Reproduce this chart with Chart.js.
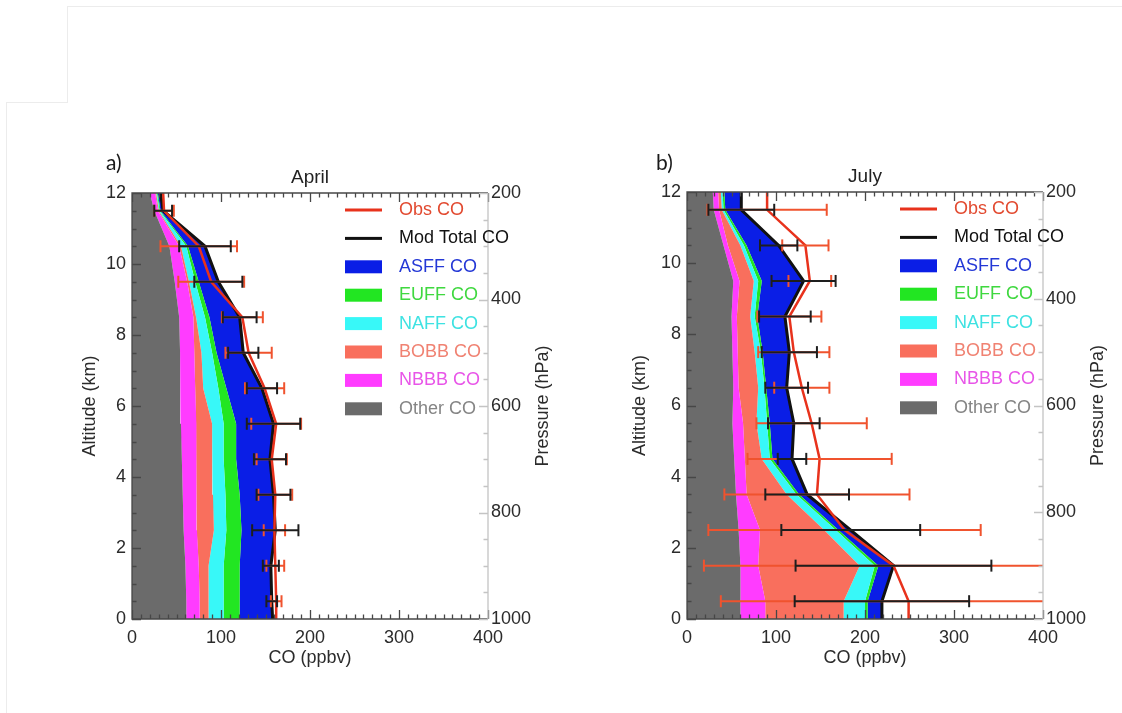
<!DOCTYPE html>
<html>
<head>
<meta charset="utf-8">
<title>Tagged CO profiles</title>
<script src="https://cdn.jsdelivr.net/npm/chart.js@4.4.1/dist/chart.umd.min.js"></script>
<style>
  body { margin: 0; background: #fff; }
  #page { position: relative; width: 1122px; height: 713px; overflow: hidden; background: #fff; }
  .panel { position: absolute; top: 0; width: 561px; height: 713px; }
  .edge { position: absolute; border: 0 solid #ececec; }
</style>
</head>
<body>
<div id="page">
  <div class="edge" style="left:67px;top:6px;width:1055px;height:96px;border-left-width:1px;border-top-width:1px;"></div>
  <div class="edge" style="left:6px;top:102px;width:61px;height:611px;border-left-width:1px;border-top-width:1px;"></div>
  <div class="panel" style="left:0"><canvas id="april" width="561" height="713"></canvas></div>
  <div class="panel" style="left:561px"><canvas id="july" width="561" height="713"></canvas></div>
</div>
<script>
// profile levels (km); the 0 and 12 km rows close the profile at the plot edges
const altitude = [0, 0.5, 1.5, 2.5, 3.5, 4.5, 5.5, 6.5, 7.5, 8.5, 9.5, 10.5, 11.5, 12];
const coTicks = [0, 100, 200, 300, 400];
const altTicks = [0, 2, 4, 6, 8, 10, 12];
const pressureTicks = [200, 400, 600, 800, 1000];

// stacking order, left to right
const sourceNames = ['Other CO', 'NBBB CO', 'BOBB CO', 'NAFF CO', 'EUFF CO', 'ASFF CO'];

// April, ppbv
const aprOther = [61, 61, 60, 58, 57, 56, 55, 54, 54, 53, 48, 42, 25, 20];
const aprNBBB  = [15, 15, 15, 15, 16, 16, 17, 17, 16, 16, 14, 11, 4, 6];
const aprBOBB  = [10, 10, 11, 19, 18, 18, 18, 9, 8, 3, 2, 2, 1, 1];
const aprNAFF  = [17, 17, 17, 14, 14, 13, 13, 17, 12, 10, 7, 6, 1, 1];
const aprEUFF  = [18, 18, 18, 17, 16, 14, 14, 9, 5, 5, 4, 2, 1, 1];
const aprASFF  = [37, 36, 35, 38, 38, 38, 42, 40, 30, 34, 22, 19, 3, 3];
const aprObs   = [162, 162, 161, 160, 161, 157, 162, 149, 131, 124, 89, 75, 36, 35];
const aprModSd = [null, 6, 9, 26, 19, 18, 30, 17, 17, 19, 27, 29, 10, null];
const aprObsSd = [null, 6, 10, 12, 19, 17, 28, 22, 26, 23, 37, 43, 11, null];

// July, ppbv
const julOther = [60, 60, 60, 58, 55, 53, 51, 52, 51, 50, 52, 41, 30, 29];
const julNBBB  = [28, 28, 20, 24, 12, 12, 12, 6, 6, 6, 7, 5, 6, 6];
const julBOBB  = [88, 88, 114, 72, 45, 19, 15, 22, 19, 15, 16, 14, 3, 3];
const julNAFF  = [24, 24, 17, 13, 11, 9, 12, 7, 7, 5, 5, 4, 2, 2];
const julEUFF  = [3, 3, 4, 3, 3, 3, 3, 2, 2, 3, 4, 3, 2, 2];
const julASFF  = [16, 16, 17, 14, 9, 22, 27, 23, 30, 31, 47, 36, 18, 19];
const julObs   = [249, 249, 232, 177, 146, 149, 140, 129, 120, 115, 138, 133, 90, 90];
const julModSd = [null, 98, 110, 78, 47, 16, 29, 24, 31, 29, 36, 21, 37, null];
const julObsSd = [null, 211, 213, 153, 104, 81, 62, 31, 40, 36, 24, 26, 67, null];

const sourceColors = ['#6b6b6b', '#ff3cff', '#f96f5d', '#38f8f8', '#22e622', '#0a1ee6'];
const obsColor = '#e8321c';
const obsBarColor = '#f0532e';
const modColor = '#111111';

const FONT = '"Liberation Sans", Arial, Helvetica, sans-serif';
Chart.defaults.font.family = FONT;
Chart.defaults.font.size = 18;
Chart.defaults.color = '#2b2b2b';
Chart.defaults.elements.line.tension = 0;

const keyEntries = [
  { label: 'Obs CO', swatch: obsColor, text: '#e24a30', line: true },
  { label: 'Mod Total CO', swatch: modColor, text: '#111', line: true },
  { label: 'ASFF CO', swatch: sourceColors[5], text: '#2438d6' },
  { label: 'EUFF CO', swatch: sourceColors[4], text: '#3fd83f' },
  { label: 'NAFF CO', swatch: sourceColors[3], text: '#3ee2e2' },
  { label: 'BOBB CO', swatch: sourceColors[2], text: '#f08272' },
  { label: 'NBBB CO', swatch: sourceColors[1], text: '#e855e8' },
  { label: 'Other CO', swatch: sourceColors[0], text: '#858585' }
];

// horizontal error bars: lo..hi segment per level, broken by a null point
function errorBars(centre, spread, color, order) {
  const pts = [];
  altitude.forEach((a, i) => {
    if (spread[i] == null) return;
    pts.push({ x: centre[i] - spread[i], y: a }, { x: centre[i] + spread[i], y: a }, { x: null, y: a });
  });
  return {
    data: pts,
    borderColor: color,
    borderWidth: 2,
    pointStyle: 'line',
    pointRotation: 90,
    pointRadius: 6,
    pointBorderColor: color,
    pointBorderWidth: 2,
    fill: false,
    spanGaps: false,
    order
  };
}

function profileDatasets(parts, obs, modSd, obsSd) {
  const sets = [];
  let running = altitude.map(() => 0);
  parts.forEach((part, k) => {
    running = running.map((v, i) => v + part[i]);
    sets.push({
      label: sourceNames[k],
      data: altitude.map((a, i) => ({ x: running[i], y: a })),
      backgroundColor: sourceColors[k],
      borderWidth: 0,
      pointRadius: 0,
      fill: k === 0 ? 'origin' : '-1',
      order: 4
    });
  });
  const total = running;
  sets.push({
    label: 'Mod Total CO',
    data: altitude.map((a, i) => ({ x: total[i], y: a })),
    borderColor: modColor, borderWidth: 3, pointRadius: 0, fill: false, order: 3
  });
  sets.push({
    label: 'Obs CO',
    data: altitude.map((a, i) => ({ x: obs[i], y: a })),
    borderColor: obsColor, borderWidth: 2.5, pointRadius: 0, fill: false, order: 2
  });
  sets.push(errorBars(obs, obsSd, obsBarColor, 1));
  sets.push(errorBars(total, modSd, '#1e1e1e', 0));
  return sets;
}

// axis box with inward ticks; the pressure side is drawn light
const frame = {
  id: 'frame',
  afterDatasetsDraw(chart) {
    const { ctx, chartArea: a, scales } = chart;
    ctx.save();
    ctx.lineWidth = 1.3;
    ctx.strokeStyle = '#474747';
    ctx.beginPath();
    ctx.moveTo(a.right, a.top); ctx.lineTo(a.left, a.top);
    ctx.lineTo(a.left, a.bottom); ctx.lineTo(a.right, a.bottom);
    for (let v = 0; v <= 400; v += 10) {
      const px = Math.round(scales.x.getPixelForValue(v)) + 0.5;
      const len = v % 100 === 0 ? 9 : 4.5;
      ctx.moveTo(px, a.bottom); ctx.lineTo(px, a.bottom - len);
      ctx.moveTo(px, a.top); ctx.lineTo(px, a.top + len);
    }
    for (let v = 0; v <= 12; v += 0.5) {
      const py = Math.round(scales.y.getPixelForValue(v)) + 0.5;
      const len = v % 2 === 0 ? 9 : 4.5;
      ctx.moveTo(a.left, py); ctx.lineTo(a.left + len, py);
    }
    ctx.stroke();

    ctx.strokeStyle = '#c4c4c4';
    ctx.beginPath();
    ctx.moveTo(a.right, a.top); ctx.lineTo(a.right, a.bottom);
    for (let p = 200; p <= 1000; p += 50) {
      const py = Math.round(scales.p.getPixelForValue(p)) + 0.5;
      const len = p % 200 === 0 ? 9 : 4.5;
      ctx.moveTo(a.right, py); ctx.lineTo(a.right - len, py);
    }
    ctx.stroke();
    ctx.restore();
  }
};

const sourceKey = {
  id: 'sourceKey',
  afterDraw(chart) {
    const { ctx, chartArea: a } = chart;
    ctx.save();
    ctx.font = '18px ' + FONT;
    ctx.textBaseline = 'middle';
    keyEntries.forEach((e, i) => {
      const y = a.top + 17 + i * 28.4;
      const x = a.left + 213;
      ctx.fillStyle = e.swatch;
      if (e.line) ctx.fillRect(x, y - 1.5, 37, 3);
      else ctx.fillRect(x, y - 6.5, 37, 13);
      ctx.fillStyle = e.text;
      ctx.fillText(e.label, x + 54, y);
    });
    ctx.restore();
  }
};

const panelText = {
  id: 'panelText',
  afterDraw(chart, args, opts) {
    const { ctx, chartArea: a } = chart;
    ctx.save();
    ctx.fillStyle = '#1a1a1a';
    ctx.textBaseline = 'middle';
    ctx.font = '21px Lato, "Open Sans", sans-serif';
    ctx.fillText(opts.tag, opts.tagX, opts.tagY);
    ctx.fillStyle = '#2b2b2b';
    ctx.font = '18px ' + FONT;
    ctx.translate(a.right + 55, (a.top + a.bottom) / 2);
    ctx.rotate(-Math.PI / 2);
    ctx.textAlign = 'center';
    ctx.fillText('Pressure (hPa)', 0, 0);
    ctx.restore();
  }
};

function makeChart(id, parts, obs, modSd, obsSd, cfg) {
  return new Chart(document.getElementById(id), {
    type: 'line',
    data: { datasets: profileDatasets(parts, obs, modSd, obsSd) },
    options: {
      responsive: false,
      animation: false,
      events: [],
      indexAxis: 'y',
      layout: { padding: cfg.padding },
      scales: {
        x: {
          type: 'linear', position: 'bottom', min: 0, max: 400,
          grid: { display: false, drawTicks: false }, border: { display: false },
          afterBuildTicks: s => { s.ticks = coTicks.map(v => ({ value: v })); },
          afterFit: s => { s.height = 50; },
          ticks: { padding: 8, maxRotation: 0, autoSkip: false, callback: v => String(v) },
          title: { display: true, text: 'CO (ppbv)', padding: 0 }
        },
        y: {
          type: 'linear', position: 'left', min: 0, max: 12,
          grid: { display: false, drawTicks: false }, border: { display: false },
          afterBuildTicks: s => { s.ticks = altTicks.map(v => ({ value: v })); },
          afterFit: s => { s.width = cfg.yWidth; },
          ticks: { padding: 6, autoSkip: false, callback: v => String(v) },
          title: { display: true, text: 'Altitude (km)', padding: 0 }
        },
        p: {
          type: 'linear', axis: 'y', position: 'right', min: 200, max: 1000, reverse: true,
          grid: { display: false, drawTicks: false }, border: { display: false },
          afterBuildTicks: s => { s.ticks = pressureTicks.map(v => ({ value: v })); },
          afterFit: s => { s.width = 60; },
          ticks: { padding: 3, autoSkip: false, callback: v => String(v) }
        }
      },
      plugins: {
        legend: { display: false },
        tooltip: { enabled: false },
        title: {
          display: true, text: cfg.month, fullSize: false,
          padding: { top: 0, bottom: 3.6 }, font: { size: 19, weight: 'normal' }, color: '#222'
        },
        panelText: { tag: cfg.tag, tagX: cfg.tagX, tagY: 163 }
      }
    },
    plugins: [frame, sourceKey, panelText]
  });
}

makeChart('april',
  [aprOther, aprNBBB, aprBOBB, aprNAFF, aprEUFF, aprASFF], aprObs, aprModSd, aprObsSd,
  { month: 'April', tag: 'a)', tagX: 106, yWidth: 53,
    padding: { top: 166.6, left: 79, right: 13, bottom: 44 } });

makeChart('july',
  [julOther, julNBBB, julBOBB, julNAFF, julEUFF, julASFF], julObs, julModSd, julObsSd,
  { month: 'July', tag: 'b)', tagX: 95, yWidth: 58,
    padding: { top: 165.6, left: 68, right: 19, bottom: 44 } });
</script>
</body>
</html>
